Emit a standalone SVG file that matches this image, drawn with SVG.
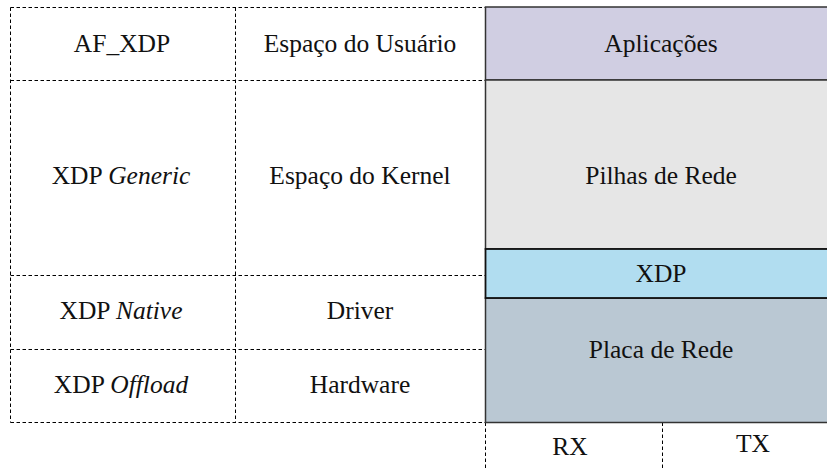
<svg xmlns="http://www.w3.org/2000/svg" width="827" height="468" viewBox="0 0 827 468">
<style>
text{font-family:'Liberation Serif','DejaVu Serif','Noto Serif','Times New Roman',Times,serif;font-size:25.5px;fill:#111;text-anchor:middle}
.d{stroke:#000;stroke-width:1;stroke-dasharray:3.5 2.5;fill:none}
.it{font-style:italic}
.blk{stroke:#333;stroke-width:1.5}
</style>
<rect width="827" height="468" fill="#fff"/>
<g id="grid">
<path class="d" d="M10.5,7.5H485M10.5,80.5H485M10.5,275.5H485M10.5,349.5H485M10.5,422.5H485M10.5,7.5V422.5M235.5,7.5V422.5M485.5,422.5V468M662.5,422.5V468"/>
</g>
<g id="aplicacoes"><rect class="blk" x="485.5" y="7" width="350" height="73" fill="#D0CEE2"/><text x="661" y="52">Aplicações</text></g>
<g id="pilhas"><rect class="blk" x="485.5" y="80" width="350" height="169" fill="#E6E6E6"/><text x="661" y="184">Pilhas de Rede</text></g>
<g id="placa"><rect class="blk" x="485.5" y="298" width="350" height="124.5" fill="#BAC8D3"/><text x="661" y="358">Placa de Rede</text></g>
<g id="xdp"><rect x="485.5" y="249" width="350" height="49" fill="#B1DDF0" stroke="#111" stroke-width="1.8"/><text x="661" y="282">XDP</text></g>
<g id="labels">
<text x="122" y="52">AF_XDP</text>
<text x="360" y="52">Espaço do Usuário</text>
<text x="121" y="184">XDP <tspan class="it">Generic</tspan></text>
<text x="360" y="184">Espaço do Kernel</text>
<text x="121" y="319">XDP <tspan class="it">Native</tspan></text>
<text x="360" y="319">Driver</text>
<text x="121" y="393">XDP <tspan class="it">Offload</tspan></text>
<text x="360" y="393">Hardware</text>
<text x="570" y="455">RX</text>
<text x="753" y="452">TX</text>
</g>
</svg>
